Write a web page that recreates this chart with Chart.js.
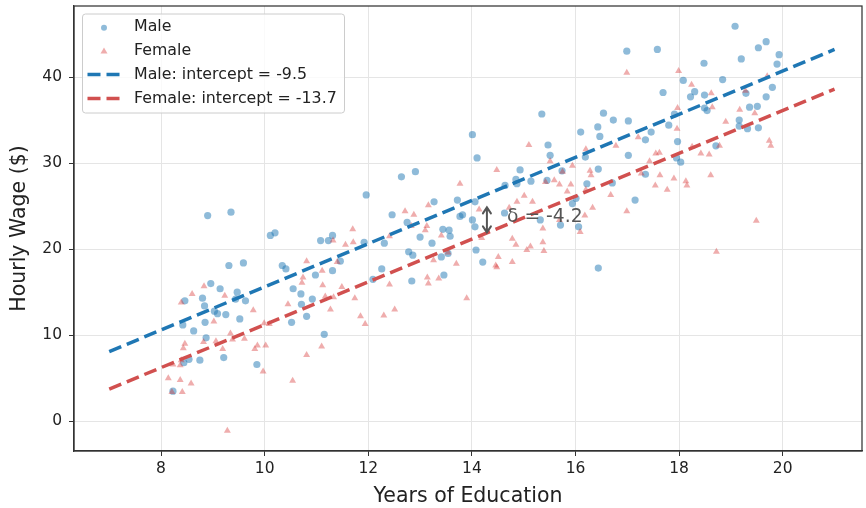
<!DOCTYPE html>
<html>
<head>
<meta charset="utf-8">
<script src="https://cdn.jsdelivr.net/npm/chart.js@4/dist/chart.umd.min.js"></script>
<style>
  html, body { margin: 0; padding: 0; background: #fff; }
</style>
</head>
<body>
<canvas id="chart" width="866" height="508"></canvas>
<script>
// scatter data: years of education vs hourly wage
const maleEdu = [
    8.23, 8.90, 9.35, 10.11, 10.20, 11.96, 11.08, 11.23, 11.31, 11.92,
    9.31, 9.59, 10.34, 10.41, 10.98, 11.31, 11.46, 8.96, 9.14, 8.46,
    8.80, 8.84, 9.47, 9.44, 9.63, 9.03, 9.09, 9.25, 9.52, 8.85,
    8.42, 8.63, 8.87, 9.21, 8.54, 8.44, 8.75, 9.85, 10.55, 10.70,
    10.92, 10.81, 10.52, 11.15, 10.71, 14.01, 14.10, 12.64, 12.91, 14.93,
    14.64, 14.85, 14.87, 13.27, 13.72, 13.77, 13.82, 14.06, 12.46, 12.75,
    14.01, 14.06, 13.44, 13.56, 13.58, 13.00, 13.23, 12.31, 12.78, 12.86,
    13.41, 13.54, 14.08, 14.21, 12.26, 12.09, 12.84, 13.46, 14.63, 15.35,
    15.47, 15.51, 15.74, 16.10, 16.43, 16.54, 16.73, 17.02, 16.47, 16.19,
    16.44, 16.22, 16.01, 15.94, 15.71, 16.06, 16.71, 17.15, 17.35, 17.35,
    17.46, 16.44, 15.45, 15.32, 15.14, 17.02, 17.69, 18.08, 18.22, 18.30,
    17.80, 17.91, 17.97, 17.95, 18.03, 19.08, 19.53, 19.68, 19.20, 18.48,
    19.93, 19.89, 18.84, 19.80, 18.49, 18.49, 18.54, 19.29, 19.68, 19.36,
    19.51, 19.16, 19.16, 19.32, 19.53, 18.71, 16.99, 17.58
];
const maleWage = [
    3.5, 23.9, 24.3, 21.6, 21.9, 26.3, 21.0, 21.0, 21.6, 20.8,
    18.1, 18.4, 18.1, 17.7, 17.0, 17.5, 18.6, 16.0, 15.4, 14.0,
    14.3, 13.4, 15.0, 14.2, 14.0, 12.8, 12.5, 12.4, 11.9, 11.5,
    11.2, 10.5, 9.7, 7.4, 7.2, 6.8, 7.1, 6.6, 15.4, 14.8,
    14.2, 12.2, 11.5, 10.1, 13.6, 33.3, 30.6, 28.4, 29.0, 29.2,
    27.4, 28.1, 27.6, 25.5, 25.7, 23.8, 24.0, 25.5, 24.0, 23.1,
    23.4, 22.6, 22.3, 22.2, 21.5, 21.4, 20.7, 20.7, 19.7, 19.3,
    19.1, 19.5, 19.9, 18.5, 17.7, 16.5, 16.3, 17.0, 24.2, 35.7,
    32.1, 30.9, 29.1, 33.6, 34.2, 35.8, 35.0, 34.9, 33.1, 30.7,
    29.3, 27.6, 25.9, 25.3, 22.8, 22.6, 27.7, 25.7, 28.7, 32.7,
    33.6, 17.8, 28.0, 23.4, 27.9, 30.9, 38.2, 39.6, 37.7, 38.3,
    34.4, 35.7, 32.5, 30.6, 30.1, 45.9, 43.4, 44.1, 42.1, 41.6,
    42.6, 41.5, 39.7, 38.8, 37.9, 36.4, 36.1, 38.1, 37.7, 36.5,
    36.6, 35.0, 34.3, 34.0, 34.1, 32.0, 43.0, 43.2
];
const femaleEdu = [
    8.83, 8.60, 8.39, 9.23, 9.02, 8.46, 8.43, 8.82, 9.06, 9.19,
    9.34, 9.38, 9.61, 9.78, 9.81, 9.86, 10.02, 9.97, 8.23, 8.37,
    8.39, 8.14, 8.37, 8.58, 8.21, 8.41, 9.28, 9.99, 10.09, 10.45,
    10.54, 10.72, 10.74, 10.81, 11.12, 11.11, 11.17, 11.27, 11.10, 10.81,
    11.32, 11.40, 11.33, 11.49, 11.56, 11.71, 11.70, 11.74, 11.85, 11.94,
    14.48, 13.77, 15.10, 12.71, 12.88, 13.16, 12.83, 13.13, 13.10, 12.41,
    13.41, 13.54, 13.70, 14.14, 14.19, 14.51, 14.46, 14.48, 14.78, 14.78,
    14.85, 14.72, 14.87, 15.01, 15.06, 12.30, 12.51, 12.41, 13.14, 13.16,
    13.36, 13.90, 13.26, 15.51, 15.42, 15.59, 15.69, 15.75, 15.94, 15.91,
    15.84, 16.20, 16.28, 16.30, 16.20, 16.33, 16.18, 16.68, 16.78, 17.21,
    16.99, 17.55, 17.43, 17.54, 15.37, 15.37, 15.39, 15.17, 18.24, 17.97,
    17.96, 18.25, 17.62, 17.90, 18.13, 18.15, 17.77, 17.63, 17.27, 15.13,
    15.69, 16.09, 18.62, 18.64, 19.17, 19.46, 18.90, 19.28, 19.70, 19.74,
    19.77, 18.78, 18.42, 18.58, 18.61, 19.49, 18.72, 16.99, 17.99
];
const femaleWage = [
    15.7, 14.8, 13.8, 14.6, 11.6, 9.0, 8.5, 9.2, 9.3, 8.4,
    10.2, 9.5, 9.6, 12.9, 8.4, 8.8, 8.8, 5.8, 6.6, 6.5,
    7.1, 5.0, 4.8, 4.4, 3.4, 3.4, -1.1, 11.4, 11.3, 13.6,
    4.7, 16.1, 16.7, 18.6, 15.8, 17.5, 14.5, 13.0, 8.7, 7.7,
    21.0, 18.5, 14.4, 15.6, 20.5, 20.8, 22.3, 14.3, 12.2, 11.3,
    29.2, 27.6, 32.1, 24.4, 24.0, 25.1, 22.7, 22.7, 22.2, 21.5,
    21.6, 19.6, 18.3, 24.6, 21.3, 19.1, 18.1, 17.9, 18.5, 21.2,
    20.5, 24.8, 25.5, 26.2, 19.9, 12.3, 13.0, 15.9, 16.7, 16.0,
    16.6, 14.3, 18.7, 30.2, 27.8, 28.0, 27.5, 29.0, 29.7, 27.5,
    26.7, 31.6, 29.1, 28.6, 26.9, 24.8, 23.9, 26.3, 32.0, 33.0,
    24.4, 31.1, 30.2, 27.4, 22.4, 20.8, 19.8, 25.5, 39.1, 36.4,
    34.0, 31.9, 31.2, 28.2, 27.9, 27.4, 26.9, 28.6, 28.8, 20.3,
    23.4, 22.0, 38.1, 36.5, 36.2, 35.8, 34.8, 38.4, 40.1, 32.6,
    32.0, 32.0, 31.1, 31.0, 28.6, 23.3, 19.7, 40.5, 40.7
];

// fitted lines, end points only
const lineEdu = [7, 21];
const maleLineWage = [8.1, 43.2];
const femaleLineWage = [3.75, 38.6];

// gap annotation
const gapEdu = 14.29;
const gapTop = 24.85;
const gapBottom = 21.95;
const gapLabel = 'δ = -4.2';
const gapLabelEdu = 14.68;
const gapLabelWage = 23.75;

const xTicks = [8, 10, 12, 14, 16, 18, 20];
const yTicks = [0, 10, 20, 30, 40];

const legendLabels = ['Male', 'Female', 'Male: intercept = -9.5', 'Female: intercept = -13.7'];

const BLUE = '#1f77b4';
const RED = '#d1504f';
const FONT = "'DejaVu Sans', sans-serif";

function toPoints(xs, ys) {
    return xs.map((x, i) => ({ x: x, y: ys[i] }));
}

// no extra room for half tick labels, the plot box is placed by layout padding
function fitAxis(size, isX) {
    return s => {
        if (isX) s.height = size; else s.width = size;
        s.paddingTop = 0;
        s.paddingBottom = 0;
        s.paddingLeft = 0;
        s.paddingRight = 0;
    };
}

const framePlugin = {
    id: 'frame',
    afterDatasetsDraw(chart) {
        const ctx = chart.ctx;
        const sx = chart.scales.x;
        const sy = chart.scales.y;

        // double arrow between the two lines
        const ax = sx.getPixelForValue(gapEdu);
        const ay1 = sy.getPixelForValue(gapTop);
        const ay2 = sy.getPixelForValue(gapBottom);
        ctx.save();
        ctx.strokeStyle = '#555';
        ctx.lineWidth = 2;
        ctx.lineCap = 'round';
        ctx.beginPath();
        ctx.moveTo(ax, ay1);
        ctx.lineTo(ax, ay2);
        ctx.moveTo(ax - 4, ay1 + 6);
        ctx.lineTo(ax, ay1);
        ctx.lineTo(ax + 4, ay1 + 6);
        ctx.moveTo(ax - 4, ay2 - 6);
        ctx.lineTo(ax, ay2);
        ctx.lineTo(ax + 4, ay2 - 6);
        ctx.stroke();

        ctx.fillStyle = '#555';
        ctx.font = '18.7px ' + FONT;
        ctx.textAlign = 'left';
        ctx.textBaseline = 'middle';
        ctx.fillText(gapLabel, sx.getPixelForValue(gapLabelEdu), sy.getPixelForValue(gapLabelWage));
        ctx.restore();
    },
    afterDraw(chart) {
        const ctx = chart.ctx;
        const a = chart.chartArea;
        ctx.save();
        ctx.strokeStyle = '#333';
        ctx.lineWidth = 1.25;
        ctx.strokeRect(a.left, a.top, a.right - a.left, a.bottom - a.top);

        // legend box
        const bx = a.left + 8.5;
        const by = a.top + 8;
        ctx.fillStyle = 'rgba(255,255,255,0.8)';
        ctx.strokeStyle = '#cccccc';
        ctx.lineWidth = 1;
        ctx.beginPath();
        ctx.roundRect(bx, by, 262, 99, 3);
        ctx.fill();
        ctx.stroke();

        ctx.font = '15.8px ' + FONT;
        ctx.textAlign = 'left';
        ctx.textBaseline = 'middle';
        legendLabels.forEach((label, i) => {
            const ry = by + 12.7 + i * 23.9;
            if (i === 0) {
                ctx.fillStyle = 'rgba(31,119,180,0.5)';
                ctx.beginPath();
                ctx.arc(bx + 21.5, ry + 1, 3, 0, Math.PI * 2);
                ctx.fill();
            } else if (i === 1) {
                ctx.fillStyle = 'rgba(214,39,40,0.38)';
                ctx.beginPath();
                ctx.moveTo(bx + 21.5, ry - 3);
                ctx.lineTo(bx + 25, ry + 3);
                ctx.lineTo(bx + 18, ry + 3);
                ctx.closePath();
                ctx.fill();
            } else {
                ctx.strokeStyle = i === 2 ? BLUE : RED;
                ctx.lineWidth = 3.5;
                ctx.setLineDash([13, 6]);
                ctx.beginPath();
                ctx.moveTo(bx + 5, ry);
                ctx.lineTo(bx + 37, ry);
                ctx.stroke();
                ctx.setLineDash([]);
            }
            ctx.fillStyle = '#222';
            ctx.fillText(label, bx + 51.5, ry);
        });
        ctx.restore();
    }
};

new Chart(document.querySelector('#chart').getContext('2d'), {
    type: 'scatter',
    data: {
        datasets: [
            {
                label: legendLabels[3],
                data: toPoints(lineEdu, femaleLineWage),
                showLine: true,
                borderColor: RED,
                borderWidth: 3.5,
                borderDash: [13, 6],
                pointRadius: 0,
                order: 0
            },
            {
                label: legendLabels[2],
                data: toPoints(lineEdu, maleLineWage),
                showLine: true,
                borderColor: BLUE,
                borderWidth: 3.5,
                borderDash: [13, 6],
                pointRadius: 0,
                order: 1
            },
            {
                label: legendLabels[1],
                data: toPoints(femaleEdu, femaleWage),
                pointStyle: 'triangle',
                pointRadius: 4,
                backgroundColor: 'rgba(214,39,40,0.38)',
                borderWidth: 0,
                order: 2
            },
            {
                label: legendLabels[0],
                data: toPoints(maleEdu, maleWage),
                pointStyle: 'circle',
                pointRadius: 3.6,
                backgroundColor: 'rgba(31,119,180,0.5)',
                borderWidth: 0,
                order: 3
            }
        ]
    },
    options: {
        responsive: false,
        animation: false,
        devicePixelRatio: 1,
        layout: { padding: { top: 6, right: 3, left: 0, bottom: 0 } },
        plugins: {
            legend: { display: false },
            tooltip: { enabled: false }
        },
        scales: {
            x: {
                type: 'linear',
                min: 6.32,
                max: 21.53,
                afterBuildTicks: s => { s.ticks = xTicks.map(v => ({ value: v })); },
                afterFit: fitAxis(57, true),
                ticks: { font: { family: FONT, size: 15.5 }, color: '#222', padding: 4 },
                grid: { color: '#e5e5e5', tickColor: '#333', tickLength: 5 },
                border: { color: '#333', width: 1.25 },
                title: {
                    display: true,
                    text: 'Years of Education',
                    font: { family: FONT, size: 20.5 },
                    color: '#222',
                    padding: { top: 0, bottom: -1 }
                }
            },
            y: {
                type: 'linear',
                min: -3.45,
                max: 48.25,
                afterBuildTicks: s => { s.ticks = yTicks.map(v => ({ value: v })); },
                afterFit: fitAxis(74, false),
                ticks: { font: { family: FONT, size: 15.5 }, color: '#222', padding: 7 },
                grid: { color: '#e5e5e5', tickColor: '#333', tickLength: 5 },
                border: { color: '#333', width: 1.25 },
                title: {
                    display: true,
                    text: 'Hourly Wage ($)',
                    font: { family: FONT, size: 20.5 },
                    color: '#222',
                    padding: { top: 7.5, bottom: 0 }
                }
            }
        }
    },
    plugins: [framePlugin]
});
</script>
</body>
</html>
